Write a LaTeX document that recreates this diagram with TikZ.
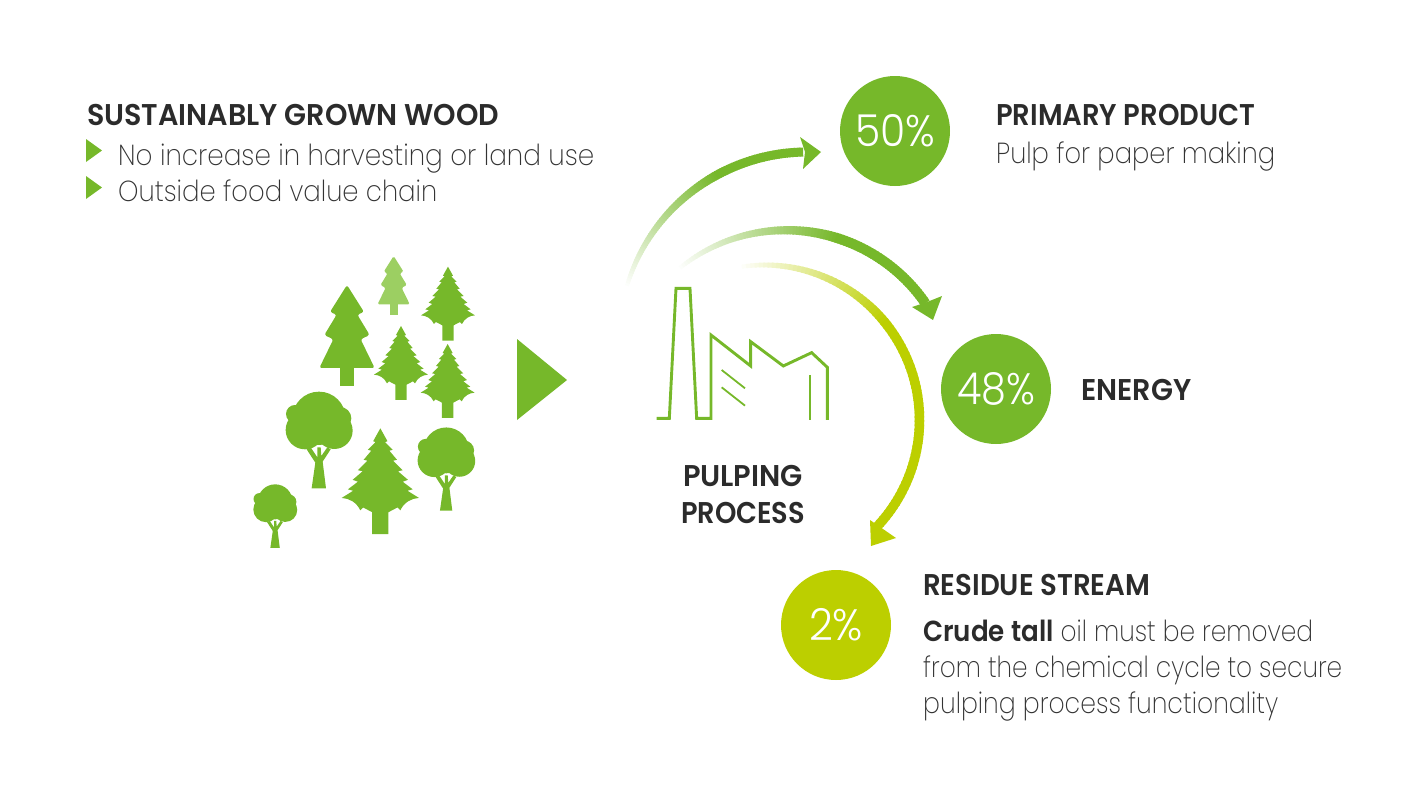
\documentclass[tikz,border=0pt]{standalone}
\usepackage{graphicx}
\usepackage{fontspec}
\setmainfont{Poppins ExtraLight}[FakeStretch=0.885,BoldFont=Poppins SemiBold,BoldFeatures={FakeStretch=0.93}]
\newfontfamily\pctfont{Poppins Light}
\definecolor{leaf}{HTML}{76B82A}
\definecolor{lime}{HTML}{BCCF00}
\definecolor{paleleaf}{HTML}{9CCF62}
\definecolor{ink}{HTML}{2B2B2B}
\definecolor{bodyink}{HTML}{333333}
\newcommand{\fitw}[2]{\resizebox{#1pt}{\height}{#2}}
\newcommand{\gradarc}[9]{% cx cy R a0 a1 colour full-at w0 w1
  \foreach \i in {0,...,89}{
    \pgfmathsetmacro{\aa}{#4+(#5-#4)*\i/90}
    \pgfmathsetmacro{\ab}{#4+(#5-#4)*(\i+1.4)/90}
    \pgfmathsetmacro{\pc}{min(100,100*\i/90/#7)}
    \pgfmathsetmacro{\lw}{#8+(#9-#8)*min(1,\i/90/#7)}
    \draw[#6!\pc!white,line width=\lw pt]
      ({#1+#3*cos(\aa)},{#2-#3*sin(\aa)}) arc[start angle=-\aa,end angle=-\ab,radius=#3];
  }}
\newcommand{\pinerc}{2.4pt}
\tikzset{
  pinetree/.pic={\fill[rounded corners=\pinerc,pic actions]
    (321,135)--(270,216)--(290,224)--(253,285)--(280,298)--(238,384)--(404,384)--(362,298)--(389,285)--(352,224)--(372,216)--cycle;
    \fill[pic actions] (300,380) rectangle (342,437);},
  sprucetree/.pic={\fill[pic actions]
    (0,0)--(15,27)--(10,29)--(26,45)--(19,47)--(35,66)--(27,68)--(47,88)--(37,90)--(58,108)--(47,112)--(68,128)--(57,131)--(81,146)
    ..controls (65,147) and (50,155)..(42,172)--(36,166)--(17,176)--(17,222)--(-17,222)--(-17,176)--(-36,166)--(-42,172)
    ..controls (-50,155) and (-65,147)..(-81,146)
    --(-57,131)--(-68,128)--(-47,112)--(-58,108)--(-37,90)--(-47,88)--(-27,68)--(-35,66)--(-19,47)--(-26,45)--(-10,29)--(-15,27)--cycle;},
  broadleaf/.pic={\fill[pic actions] (237,535) circle[radius=80];
    \fill[pic actions] (165,522) circle[radius=27];
    \fill[pic actions] (195,570) circle[radius=58];
    \fill[pic actions] (283,572) circle[radius=55];
    \fill[pic actions] (300,535) circle[radius=34];
    \fill[pic actions] (215,745)--(258,745)--(248,665)--(272,628)--(262,622)--(244,648)--(242,622)--(232,622)--(232,652)--(212,622)--(200,628)--(226,668)--cycle;},
  label/.style={anchor=base west,inner sep=0pt,text=bodyink,font=\fontsize{29}{29}\selectfont},
  heading/.style={anchor=base west,inner sep=0pt,text=ink,font=\fontsize{30}{30}\selectfont\bfseries},
  pctcircle/.style={circle,minimum size=110pt,inner sep=0pt,text=white,font=\fontsize{44}{44}\pctfont},
  factoryline/.style={draw=leaf,line width=2.9pt,line join=miter},
  thinline/.style={draw=leaf,line width=1.8pt}
}
\begin{document}
\begin{tikzpicture}[x=1pt,y=-1pt]
\useasboundingbox (0,0) rectangle (1424,801);
% trees
\begin{scope}[shift={(240,240)},x=0.3333pt,y=-0.3333pt]
  \pic[fill=leaf] at (0,0) {pinetree};
  \begin{scope}[shift={(461,48)},x=0.1944pt,y=-0.1944pt]
    \renewcommand{\pinerc}{1.5pt}
    \pic[fill=paleleaf] at (-321,-135) {pinetree};
  \end{scope}
  \pic[fill=leaf] at (624,80) {sprucetree};
  \pic[fill=leaf] at (483,258) {sprucetree};
  \pic[fill=leaf] at (623,312) {sprucetree};
  \begin{scope}[shift={(421,565)},x=0.4767pt,y=-0.4767pt]
    \pic[fill=leaf] {sprucetree};
  \end{scope}
  \pic[fill=leaf] {broadleaf};
  \begin{scope}[shift={(415,171)},x=0.2867pt,y=-0.2867pt]
    \pic[fill=leaf] {broadleaf};
  \end{scope}
  \begin{scope}[shift={(-50,434.5)},x=0.2187pt,y=-0.2187pt]
    \pic[fill=leaf] {broadleaf};
  \end{scope}
\end{scope}
% big triangle
\fill[leaf] (517,339)--(517,420)--(567,380)--cycle;
% bullets
\fill[leaf] (86,139)--(86,162)--(102,150.5)--cycle;
\fill[leaf] (86,176)--(86,199)--(102,187.5)--cycle;
% factory
\begin{scope}[shift={(610,130)},x=0.3333pt,y=-0.3333pt]
  \draw[factoryline] (140,865)--(178,865)--(198,475)--(240,475)--(260,865)--(303,865)--(303,615)--(422,708)--(422,635)--(520,708)--(605,668)--(652,712)--(652,870);
  \draw[thinline] (335,720)--(405,775);
  \draw[thinline] (335,772)--(405,827);
  \draw[thinline] (600,735)--(600,870);
\end{scope}
% arcs
\gradarc{807}{340}{188}{164}{91.5}{leaf}{0.62}{4}{9}
\fill[leaf] (800,137)--(821,152)--(803,169)--(805,152)--cycle;
\gradarc{786.3}{399.2}{169}{130}{35}{leaf}{0.6}{4}{10}
\fill[leaf] (912,307)--(933,320)--(942,296)--(927,302)--cycle;
\gradarc{764.5}{420}{155}{100}{-43}{lime}{0.42}{4}{9.5}
\fill[lime] (870,520)--(871,546)--(896,538)--(883,529)--cycle;
% circles
\node[pctcircle,fill=leaf] (prim) at (895,131) {\fitw{80}{50\%}};
\node[pctcircle,fill=leaf] (ener) at (996,389) {\fitw{78}{48\%}};
\node[pctcircle,fill=lime] (resi) at (836,625) {\fitw{54}{2\%}};
% text
\node[heading] (t1) at (87,125) {\fitw{412}{SUSTAINABLY GROWN WOOD}};
\node[label] (t2) at (118,165) {\fitw{476}{No increase in harvesting or land use}};
\node[label] (t3) at (118,201) {\fitw{319}{Outside food value chain}};
\node[heading] (t4) at (996,125) {\fitw{259}{PRIMARY PRODUCT}};
\node[label] (t5) at (996,163) {\fitw{279}{Pulp for paper making}};
\node[heading] (t6) at (1081,400) {\fitw{110}{ENERGY}};
\node[heading,anchor=base] (t7) at (743,486) {\fitw{120}{PULPING}};
\node[heading,anchor=base] (t8) at (743,523) {\fitw{124}{PROCESS}};
\node[heading] (t9) at (923,595) {\fitw{227}{RESIDUE STREAM}};
\node[label] (t10) at (923,641) {\fitw{390}{\textbf{\textcolor{ink}{Crude tall}} oil must be removed}};
\node[label] (t11) at (923,677) {\fitw{419}{from the chemical cycle to secure}};
\node[label] (t12) at (923,713) {\fitw{355}{pulping process functionality}};
\end{tikzpicture}
\end{document}
